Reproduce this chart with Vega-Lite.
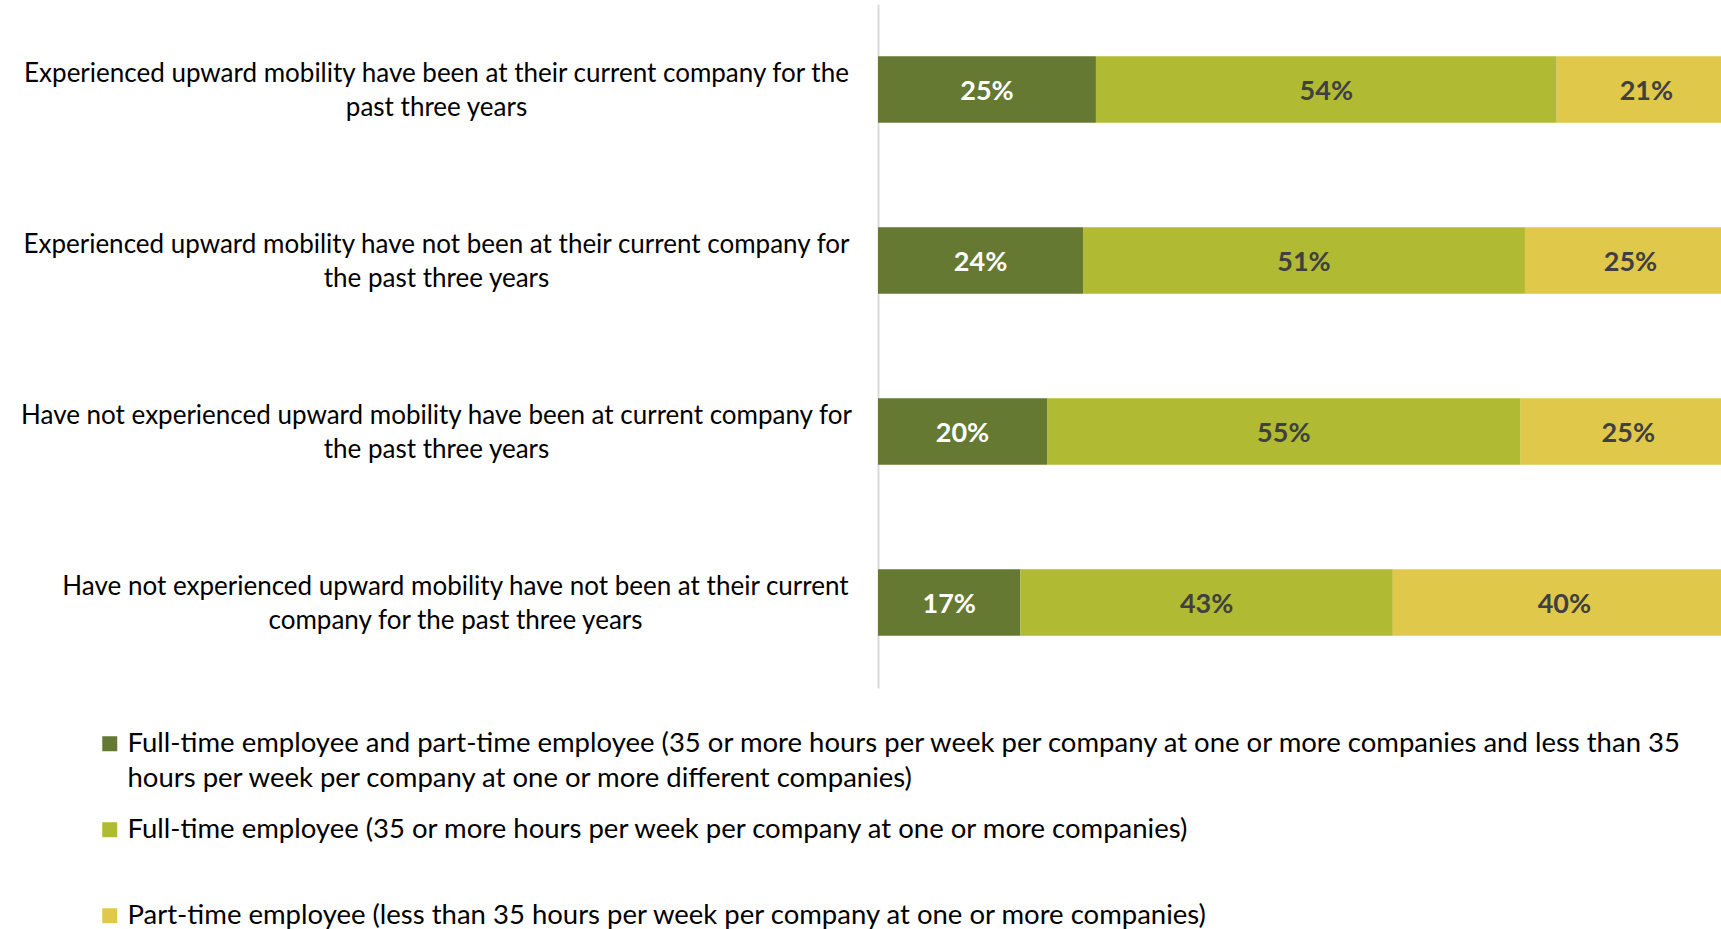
{
  "$schema": "https://vega.github.io/schema/vega-lite/v6.json",
  "autosize": "none",
  "padding": {"left": 878, "top": 4, "right": 0, "bottom": 241},
  "width": 843,
  "height": 684,
  "background": "white",
  "config": {"view": {"stroke": null}, "font": "Lato"},
  "data": {"values": [
    {"cat": "Experienced upward mobility have been at their current company for the|past three years", "series": "Full-time employee and part-time employee (35 or more hours per week per company at one or more companies and less than 35|hours per week per company at one or more different companies)", "k": 1, "value": 25.4, "label": "25%"},
    {"cat": "Experienced upward mobility have been at their current company for the|past three years", "series": "Full-time employee (35 or more hours per week per company at one or more companies)", "k": 2, "value": 53.7, "label": "54%"},
    {"cat": "Experienced upward mobility have been at their current company for the|past three years", "series": "Part-time employee (less than 35 hours per week per company at one or more companies)", "k": 3, "value": 20.9, "label": "21%"},
    {"cat": "Experienced upward mobility have not been at their current company for|the past three years", "series": "Full-time employee and part-time employee (35 or more hours per week per company at one or more companies and less than 35|hours per week per company at one or more different companies)", "k": 1, "value": 23.9, "label": "24%"},
    {"cat": "Experienced upward mobility have not been at their current company for|the past three years", "series": "Full-time employee (35 or more hours per week per company at one or more companies)", "k": 2, "value": 51.5, "label": "51%"},
    {"cat": "Experienced upward mobility have not been at their current company for|the past three years", "series": "Part-time employee (less than 35 hours per week per company at one or more companies)", "k": 3, "value": 24.6, "label": "25%"},
    {"cat": "Have not experienced upward mobility have been at current company for|the past three years", "series": "Full-time employee and part-time employee (35 or more hours per week per company at one or more companies and less than 35|hours per week per company at one or more different companies)", "k": 1, "value": 19.7, "label": "20%"},
    {"cat": "Have not experienced upward mobility have been at current company for|the past three years", "series": "Full-time employee (35 or more hours per week per company at one or more companies)", "k": 2, "value": 55.2, "label": "55%"},
    {"cat": "Have not experienced upward mobility have been at current company for|the past three years", "series": "Part-time employee (less than 35 hours per week per company at one or more companies)", "k": 3, "value": 25.1, "label": "25%"},
    {"cat": "Have not experienced upward mobility have not been at their current|company for the past three years", "series": "Full-time employee and part-time employee (35 or more hours per week per company at one or more companies and less than 35|hours per week per company at one or more different companies)", "k": 1, "value": 16.6, "label": "17%"},
    {"cat": "Have not experienced upward mobility have not been at their current|company for the past three years", "series": "Full-time employee (35 or more hours per week per company at one or more companies)", "k": 2, "value": 43.4, "label": "43%"},
    {"cat": "Have not experienced upward mobility have not been at their current|company for the past three years", "series": "Part-time employee (less than 35 hours per week per company at one or more companies)", "k": 3, "value": 40.0, "label": "40%"}
  ]},
  "transform": [
    {"stack": "value", "groupby": ["cat"], "sort": [{"field": "k", "order": "ascending"}], "as": ["v0", "v1"]},
    {"calculate": "(datum.v0 + datum.v1) / 2", "as": "mid"}
  ],
  "encoding": {
    "y": {
      "field": "cat", "type": "nominal", "sort": null,
      "scale": {"paddingInner": 0.61, "paddingOuter": 0.305},
      "axis": {
        "title": null, "ticks": false, "domainColor": "#D9D9D9", "domainWidth": 2,
        "labelExpr": "split(datum.label, '|')",
        "labelAlign": "center", "labelBaseline": "middle",
        "labelOffset": -16,
        "labelPadding": {"condition": {"test": "indexof(datum.value, 'their current|company') > 0", "value": 423}, "value": 442},
        "labelFont": "Lato", "labelFontSize": 26, "labelLineHeight": 34,
        "labelColor": "#000000", "labelLimit": 0
      }
    }
  },
  "layer": [
    {
      "mark": {"type": "bar", "clip": true},
      "encoding": {
        "x": {"field": "v0", "type": "quantitative", "scale": {"domain": [0, 98.25], "nice": false, "zero": true}, "axis": null},
        "x2": {"field": "v1"},
        "color": {
          "field": "series", "type": "nominal",
          "scale": {
            "domain": [
              "Full-time employee and part-time employee (35 or more hours per week per company at one or more companies and less than 35|hours per week per company at one or more different companies)",
              "Full-time employee (35 or more hours per week per company at one or more companies)",
              "Part-time employee (less than 35 hours per week per company at one or more companies)"
            ],
            "range": ["#667932", "#B0BA32", "#E0C84A"]
          },
          "legend": {
            "title": null, "orient": "none", "legendX": -782, "legendY": 726,
            "direction": "vertical", "symbolType": "square", "symbolSize": 225,
            "symbolStrokeWidth": 0, "symbolOpacity": 1,
            "labelExpr": "split(datum.label, '|')",
            "labelFont": "Lato", "labelFontSize": 27.5,
            "labelColor": "#000000", "labelLimit": 1700, "labelOffset": 4,
            "gridAlign": "all", "rowPadding": 22,
            "encode": {"labels": {"update": {"lineHeight": {"value": 35}}}}
          }
        }
      }
    },
    {
      "mark": {"type": "text", "fontSize": 27, "fontWeight": "bold", "font": "Lato", "baseline": "middle", "align": "center", "dy": 2},
      "encoding": {
        "x": {"field": "mid", "type": "quantitative"},
        "text": {"field": "label"},
        "color": {"condition": {"test": "datum.k == 1", "value": "#FFFFFF"}, "value": "#404040"}
      }
    }
  ]
}
